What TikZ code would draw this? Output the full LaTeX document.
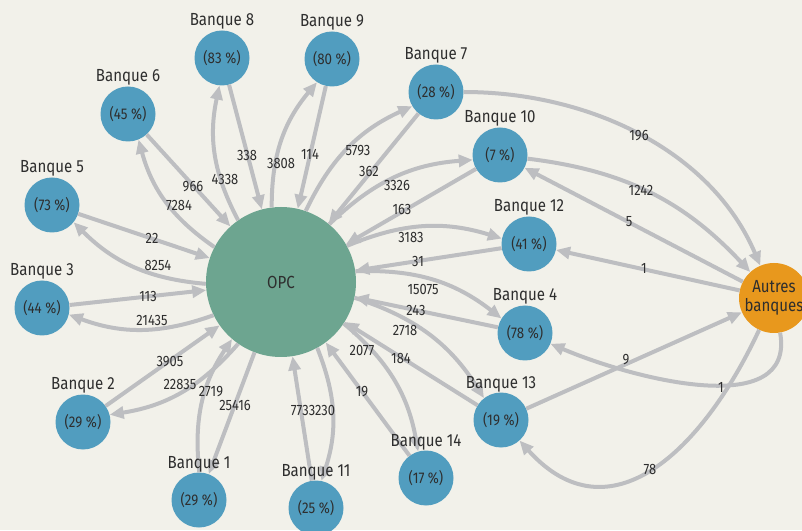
\documentclass[tikz,border=0pt]{standalone}
\usepackage{fontspec}
\setmainfont{Fira Sans}[FakeStretch=0.86]
\usetikzlibrary{arrows.meta}
\definecolor{bg}{HTML}{F2F1EA}
\definecolor{bankblue}{HTML}{519DBF}
\definecolor{opcgreen}{HTML}{6DA590}
\definecolor{autresorange}{HTML}{E8981D}
\definecolor{edgegrey}{HTML}{BDBEC1}
\definecolor{txt}{HTML}{2E2E2E}
\tikzset{
  bank/.style={circle, fill=bankblue, minimum size=55pt, inner sep=0pt, text=txt, font=\fontsize{15.5}{17}\selectfont},
  banklabel/.style={anchor=base, inner sep=0pt, text=txt, font=\fontsize{17.5}{19}\selectfont},
  hub/.style={circle, fill=opcgreen, minimum size=150pt, inner sep=0pt, text=txt, font=\fontsize{17.5}{19}\selectfont},
  otherbanks/.style={circle, fill=autresorange, minimum size=70pt, inner sep=0pt, text=txt, align=center, font=\fontsize{17.5}{19}\selectfont},
  flow/.style={draw=edgegrey, line width=4pt, -{Triangle[length=14pt,width=12pt]}},
  curvedbend/.style={bend left=20},
  num/.style={inner sep=0pt, text=txt, font=\fontsize{15}{17}\selectfont},
}
\newcommand\mybank[4]{%
  \node[bank] (#1) at (#2,#3) {(#4 \%)};}
\newcommand\mybanklabel[4]{%
  \node[banklabel] (#1name) at (#2,#3+32) {#4};}
\begin{document}
\begin{tikzpicture}[x=1pt,y=1pt]
\fill[bg] (0,0) rectangle (802,530);
\useasboundingbox (0,0) rectangle (802,530);
\clip (0,0) rectangle (802,530);

\node[hub] (opc) at (281,248) {OPC};
\node[otherbanks] (autres) at (774,232) {Autres\\banques};
\mybank{b1}{199}{30}{29}
\mybank{b2}{83}{108}{29}
\mybank{b3}{42}{222}{44}
\mybank{b4}{525}{197}{78}
\mybank{b5}{52}{325}{73}
\mybank{b6}{128}{416}{45}
\mybank{b7}{436}{438}{28}
\mybank{b8}{222}{472}{83}
\mybank{b9}{332}{471}{80}
\mybank{b10}{500}{375}{7}
\mybank{b11}{316}{22}{25}
\mybank{b12}{529}{286}{41}
\mybank{b13}{501}{110}{19}
\mybank{b14}{426}{52}{17}

% OPC <-> banks
\foreach \b in {b2,b3,b4,b5,b6,b7,b8,b9,b10,b11,b12,b13,b14}{
  \draw[flow] (\b) -- (opc);
  \draw[flow] (opc) to[curvedbend] (\b);
}
\draw[flow] (b1) to[curvedbend] (opc);
\draw[flow] (opc) -- (b1);

% Autres banques
\draw[flow] (b7) to[out=0,in=113,looseness=0.93] (autres);
\draw[flow] (b10) to[bend left=20] (autres);
\draw[flow] (autres) -- (b10);
\draw[flow] (autres) -- (b12);
\draw[flow] (b13) -- (autres);
\draw[flow] (autres) to[out=-80,in=-23] (b4);
\draw[flow] (autres) to[out=-115,in=-48,looseness=1.3] (b13);

% bank names
\mybanklabel{b1}{199}{30}{Banque 1}
\mybanklabel{b2}{83}{108}{Banque 2}
\mybanklabel{b3}{42}{222}{Banque 3}
\mybanklabel{b4}{525}{197}{Banque 4}
\mybanklabel{b5}{52}{325}{Banque 5}
\mybanklabel{b6}{128}{416}{Banque 6}
\mybanklabel{b7}{436}{438}{Banque 7}
\mybanklabel{b8}{222}{472}{Banque 8}
\mybanklabel{b9}{332}{471}{Banque 9}
\mybanklabel{b10}{500}{375}{Banque 10}
\mybanklabel{b11}{316}{22}{Banque 11}
\mybanklabel{b12}{529}{286}{Banque 12}
\mybanklabel{b13}{501}{110}{Banque 13}
\mybanklabel{b14}{426}{52}{Banque 14}

% flow labels
\node[num] (l338) at (247,374) {338};
\node[num] (l3808) at (281,366) {3808};
\node[num] (l114) at (310,376) {114};
\node[num] (l5793) at (358,379) {5793};
\node[num] (l362) at (369,358) {362};
\node[num] (l966) at (193,343) {966};
\node[num] (l4338) at (225,350) {4338};
\node[num] (l7284) at (179,324) {7284};
\node[num] (l22) at (152,292) {22};
\node[num] (l8254) at (158,265) {8254};
\node[num] (l3326) at (397,344) {3326};
\node[num] (l163) at (402,320) {163};
\node[num] (l3183) at (411,293) {3183};
\node[num] (l31) at (418,269) {31};
\node[num] (l15075) at (423,241) {15075};
\node[num] (l243) at (416,220) {243};
\node[num] (l2718) at (405,200) {2718};
\node[num] (l2077) at (362,180) {2077};
\node[num] (l184) at (401,172) {184};
\node[num] (l19) at (362,138) {19};
\node[num] (l7733230) at (313,120) {7733230};
\node[num] (l113) at (148,234) {113};
\node[num] (l21435) at (152,210) {21435};
\node[num] (l3905) at (170,168) {3905};
\node[num] (l22835) at (180,146) {22835};
\node[num] (l2719) at (211,138) {2719};
\node[num] (l25416) at (235,125) {25416};
\node[num] (l196) at (639,394) {196};
\node[num] (l1242) at (641,340) {1242};
\node[num] (l5) at (629,308) {5};
\node[num] (l1a) at (644,262) {1};
\node[num] (l9) at (626,170) {9};
\node[num] (l1b) at (721,143) {1};
\node[num] (l78) at (650,61) {78};
\end{tikzpicture}
\end{document}
